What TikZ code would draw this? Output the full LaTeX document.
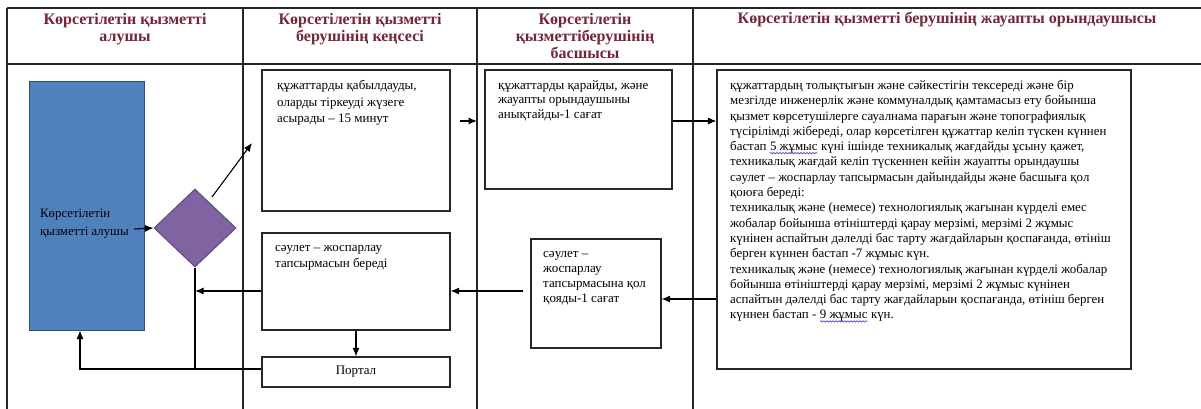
\documentclass[tikz,border=0pt]{standalone}
\usepackage{fontspec}
\setmainfont{Liberation Serif}
\usetikzlibrary{arrows.meta,shapes.geometric,decorations.pathmorphing}
\definecolor{hdr}{HTML}{742536}
\definecolor{bluefill}{HTML}{4F81BD}
\definecolor{blueline}{HTML}{2F4F7A}
\definecolor{purfill}{HTML}{8064A2}
\definecolor{purline}{HTML}{5E4A7A}
\definecolor{spell}{HTML}{3A3ACF}
\newcommand{\spellmark}[1]{\tikz[baseline=(smk.base)]{\node[inner sep=0pt, outer sep=0pt, anchor=base] (smk) {#1}; \draw[spell, line width=0.6pt, decorate, decoration={snake, amplitude=0.7pt, segment length=3pt}] ([yshift=-2.5pt]smk.base west) -- ([yshift=-2.5pt]smk.base east);}}
\begin{document}
\begin{tikzpicture}[x=1pt,y=-1pt,
  tline/.style={line width=1.4pt, black!85},
  box/.style={draw=black!85, line width=1.1pt, inner sep=0pt},
  btxt/.style={anchor=north west, inner sep=0pt, align=left, font=\fontsize{13}{16}\selectfont},
  bigtxt/.style={anchor=north west, inner sep=0pt, align=left, font=\fontsize{12.9}{15.3}\selectfont},
  htxt/.style={align=center, text=hdr, font=\fontsize{16}{17}\selectfont\bfseries},
  arr/.style={-{Latex[length=8.5pt,width=7pt]}, line width=1.1pt},
  conn/.style={line width=1.1pt}]
\useasboundingbox (0,0) rectangle (1201,409);
\fill[white] (0,0) rectangle (1201,409);
% table
\draw[tline] (7,8) -- (1201,8);
\draw[tline] (7,64) -- (1201,64);
\draw[tline] (7,8) -- (7,409);
\draw[tline] (243,8) -- (243,409);
\draw[tline] (477,8) -- (477,409);
\draw[tline] (693,8) -- (693,409);
% headers
\node[htxt] (h1) at (125,29) {Көрсетілетін қызметті\\алушы};
\node[htxt] (h2) at (360,29) {Көрсетілетін қызметті\\берушінің кеңсесі};
\node[htxt] (h3) at (585,36) {Көрсетілетін\\қызметтіберушінің\\басшысы};
\node[htxt] (h4) at (947,20) {Көрсетілетін қызметті берушінің жауапты орындаушысы};
% shapes
\node[draw=blueline, fill=bluefill, line width=1pt, minimum width=115pt, minimum height=248pt, inner sep=0pt] (blue) at (86.5,206) {};
\node[btxt, font=\fontsize{12.8}{17.5}\selectfont] (bluet) at (40,209) {Көрсетілетін\\қызметті алушы};
\node[diamond, draw=purline, fill=purfill, line width=1pt, minimum width=82pt, minimum height=78pt, inner sep=0pt] (dia) at (195,228) {};
\node[box, minimum width=188pt, minimum height=141pt] (b2) at (356,140.5) {};
\node[btxt, font=\fontsize{13}{16.5}\selectfont] (b2t) at (277,80) {құжаттарды қабылдауды,\\оларды тіркеуді жүзеге\\асырады – 15 минут};
\node[box, minimum width=187pt, minimum height=119pt] (b3) at (578.5,129.5) {};
\node[btxt, font=\fontsize{13}{14.5}\selectfont] (b3t) at (498,80) {құжаттарды қарайды, және\\жауапты орындаушыны\\анықтайды-1 сағат};
\node[box, minimum width=414pt, minimum height=299pt] (b4) at (924,219.5) {};
\node[bigtxt] (b4t) at (730,80) { құжаттардың толықтығын және сәйкестігін тексереді және бір\\мезгілде инженерлік және коммуналдық қамтамасыз ету бойынша\\қызмет көрсетушілерге сауалнама парағын және топографиялық\\түсірілімді жібереді, олар көрсетілген құжаттар келіп түскен күннен\\бастап \spellmark{5 жұмыс} күні ішінде техникалық жағдайды ұсыну қажет,\\техникалық жағдай келіп түскеннен кейін жауапты орындаушы\\сәулет – жоспарлау тапсырмасын дайындайды және басшыға қол\\қоюға береді:\\техникалық және (немесе) технологиялық жағынан күрделі емес\\жобалар бойынша өтініштерді қарау мерзімі, мерзімі 2 жұмыс\\күнінен аспайтын дәлелді бас тарту жағдайларын қоспағанда, өтініш\\берген күннен бастап -7 жұмыс күн.\\техникалық және (немесе) технологиялық жағынан күрделі жобалар\\бойынша өтініштерді қарау мерзімі, мерзімі 2 жұмыс күнінен\\аспайтын дәлелді бас тарту жағдайларын қоспағанда, өтініш берген\\күннен бастап - \spellmark{9 жұмыс} күн.};
\node[box, minimum width=188pt, minimum height=97pt] (b5) at (356,281.5) {};
\node[btxt] (b5t) at (275,245) {сәулет – жоспарлау\\тапсырмасын береді};
\node[box, minimum width=130pt, minimum height=109pt] (b6) at (596,293.5) {};
\node[btxt, font=\fontsize{13}{15}\selectfont] (b6t) at (543,251) {сәулет –\\жоспарлау\\тапсырмасына қол\\қояды-1 сағат};
\node[box, minimum width=188pt, minimum height=30pt, font=\fontsize{13}{15}\selectfont] (portal) at (356,372) {Портал};
% connector coordinates
\coordinate (a1s) at (134,229);
\coordinate (a2s) at (212,197);
\coordinate (a2e) at (252,143);
\coordinate (a3s) at (460,121);
\coordinate (a3e) at (477,121);
\coordinate (a6s) at (523,291);
\coordinate (vtop) at (dia.south);
\coordinate (vmid) at (dia.south |- 0,291);
\coordinate (vbot) at (dia.south |- 0,369);
\coordinate (lcorner) at (80,369);
% connectors
\draw[arr] (a1s) -- (dia.west);
\draw[arr] (a2s) -- (a2e);
\draw[arr] (a3s) -- (a3e);
\draw[arr] (b3.east |- 0,121) -- (b4.west |- 0,121);
\draw[arr] (b4.west |- 0,299) -- (b6.east |- 0,299);
\draw[arr] (a6s) -- (b5.east |- 0,291);
\draw[arr] (b5.west |- 0,291) -- (vmid);
\draw[conn] (vtop) -- (vbot);
\draw[arr] (b5.south) -- (portal.north);
\draw[arr] (portal.west |- 0,369) -- (lcorner) -- (lcorner |- blue.south);
\end{tikzpicture}
\end{document}
